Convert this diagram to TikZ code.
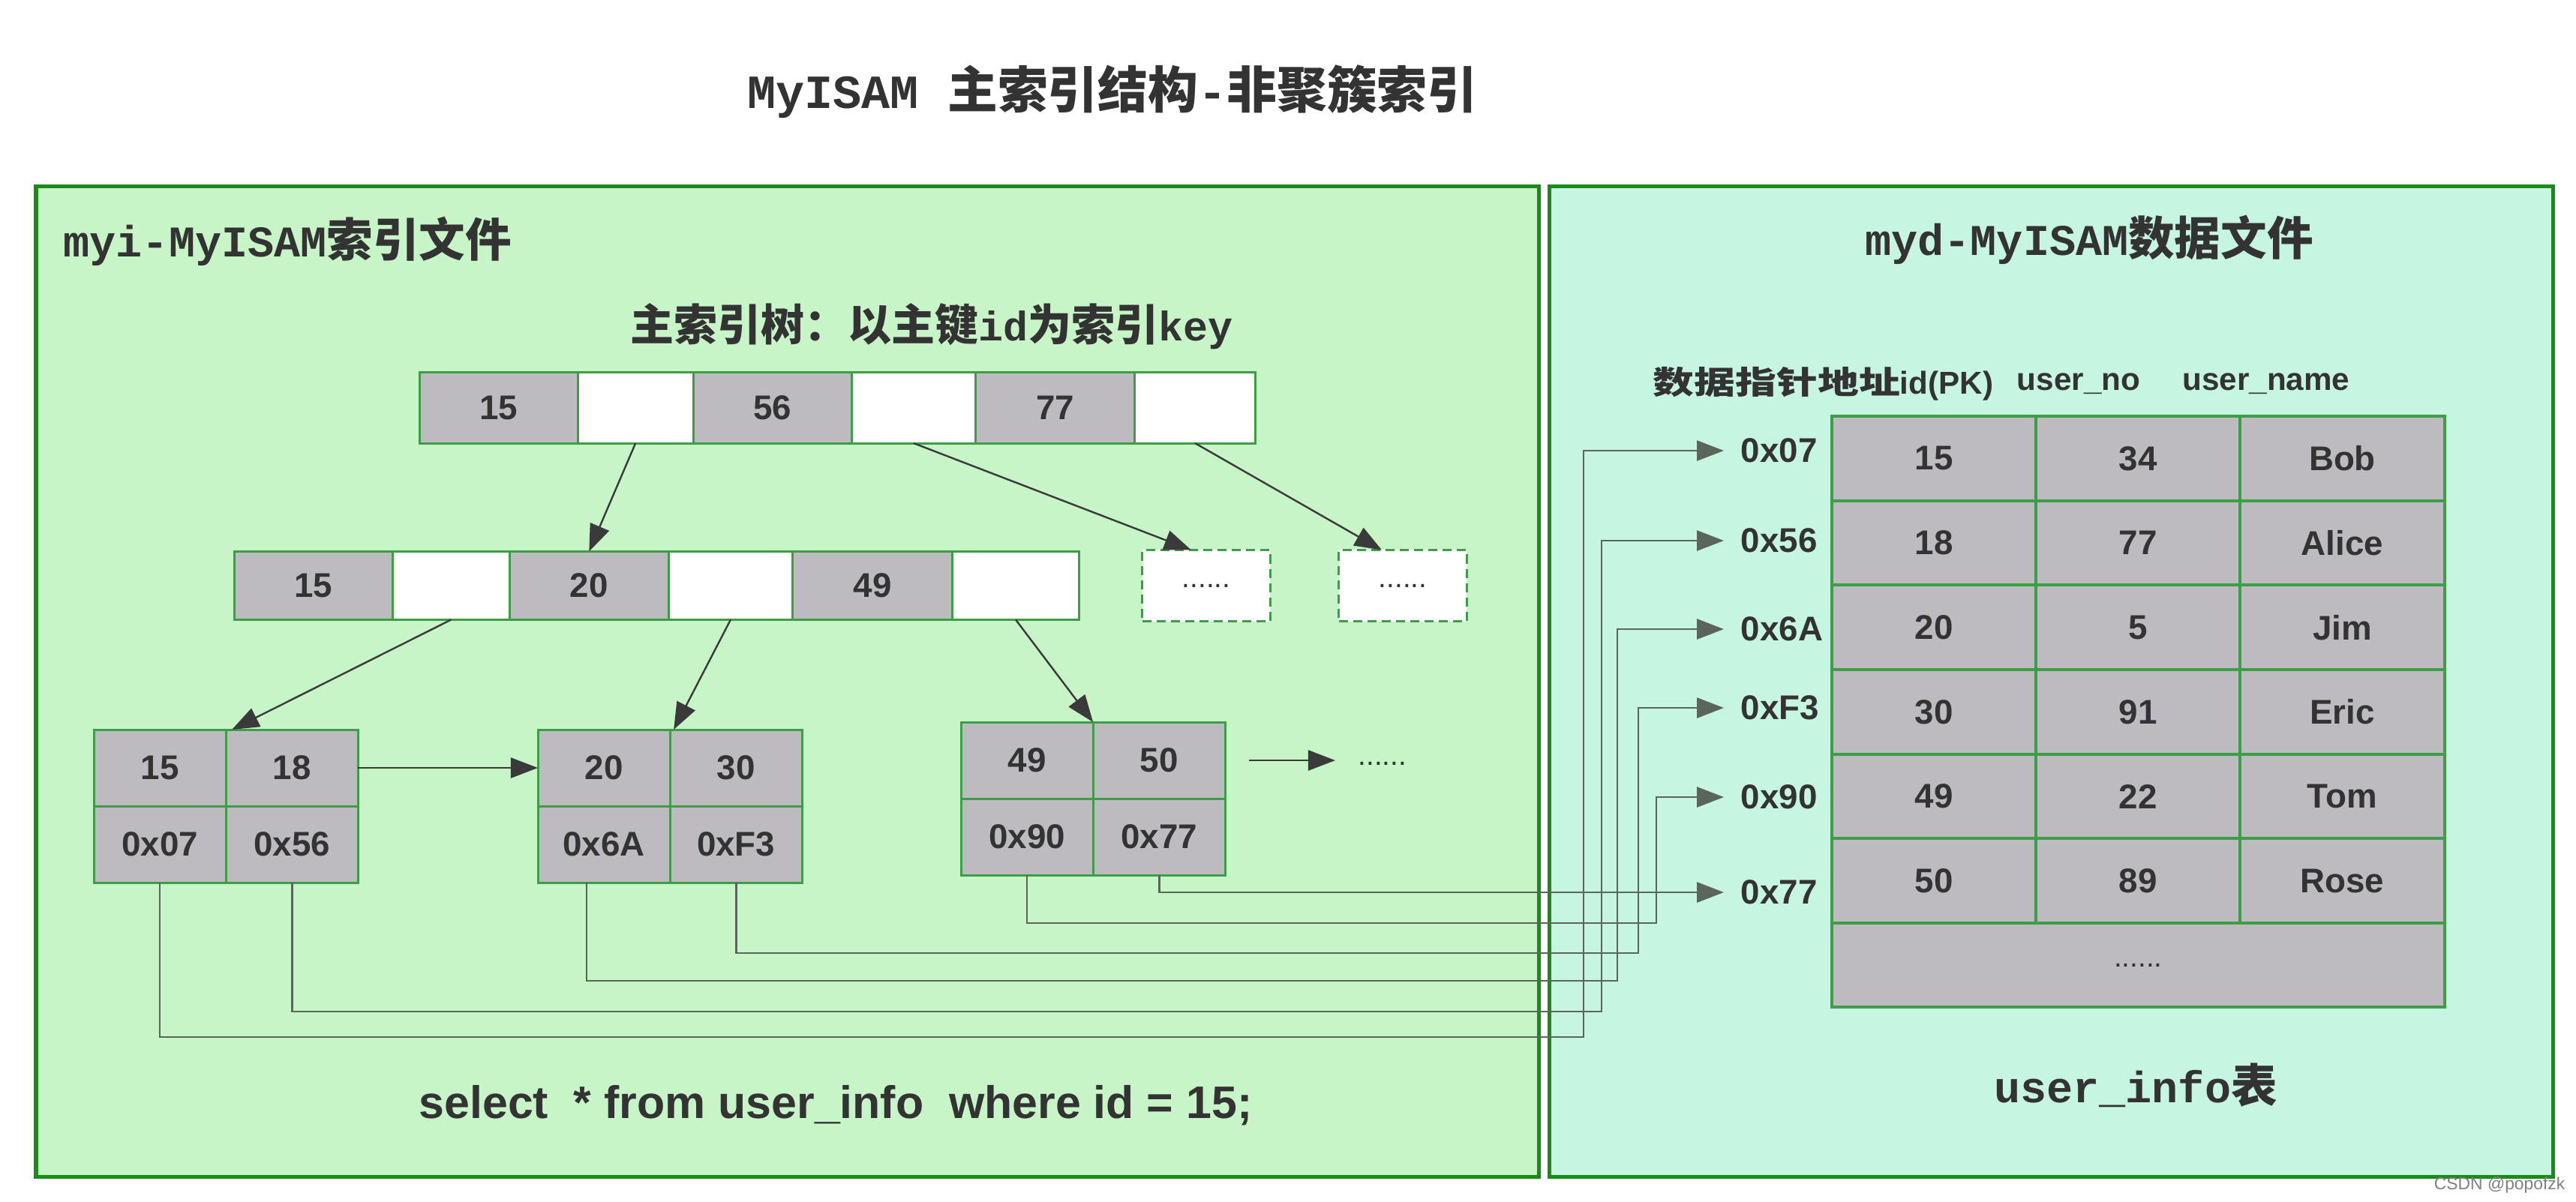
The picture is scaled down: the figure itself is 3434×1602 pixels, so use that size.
\documentclass[tikz,border=0pt]{standalone}
\usepackage{graphicx}
\usepackage{fontspec}
\setmainfont{Liberation Sans}
\newfontfamily\cjk{Noto Sans CJK SC}
\newfontfamily\lm[Scale=0.95]{Liberation Mono}
\usetikzlibrary{arrows.meta,calc}
\definecolor{lfill}{HTML}{C8F5C8}
\definecolor{rfill}{HTML}{C6F5E2}
\definecolor{pborder}{HTML}{1A8A1A}
\definecolor{cborder}{HTML}{3E9E48}
\definecolor{cgray}{HTML}{BDBBBF}
\definecolor{txt}{HTML}{333333}
\definecolor{arr}{HTML}{3A3A3A}
\definecolor{ptr}{HTML}{5A665A}
\begin{document}
\begin{tikzpicture}[x=0.01cm,y=-0.01cm,
  cell/.style={draw=cborder, line width=0.03cm, outer sep=0pt, inner sep=0pt, text=txt, font=\fontsize{13pt}{15pt}\selectfont\bfseries},
  gcell/.style={cell, fill=cgray},
  wcell/.style={cell, fill=white},
  dcell/.style={cell, fill=white, dash pattern=on 0.12cm off 0.07cm, font=\fontsize{11pt}{13pt}\selectfont},
  lcell/.style={gcell, minimum width=1.76cm, minimum height=1.02cm},
  tcell/.style={gcell, line width=0.04cm, minimum width=2.72cm, minimum height=1.1267cm},
  tarrow/.style={draw=arr, line width=0.024cm, -{Triangle[length=0.36cm,width=0.27cm]}},
  plink/.style={draw=ptr, line width=0.028cm},
  parrow/.style={plink, -{Triangle[length=0.36cm,width=0.27cm]}},
  panel/.style={line width=0.05cm, draw=pborder, anchor=north west, inner sep=0pt, outer sep=0pt},
  lbl/.style={text=txt, inner sep=0pt},
  addr/.style={text=txt, font=\fontsize{13pt}{15pt}\selectfont\bfseries, anchor=west, inner xsep=0.22cm, inner ysep=0pt},
  hdr/.style={text=txt, font=\fontsize{12pt}{14pt}\selectfont\bfseries, inner sep=0pt},
  dots/.style={font=\fontsize{11pt}{13pt}\selectfont}
]
\path[fill=white] (0,0) rectangle (3434,1602);
\useasboundingbox (0,0) rectangle (3434,1602);

% panels
\node[panel, fill=lfill, minimum width=20.02cm, minimum height=13.21cm] (lp) at (48,248) {};
\node[panel, fill=rfill, minimum width=13.38cm, minimum height=13.21cm] (rp) at (2065,248) {};

% titles
\node[lbl, font=\fontsize{19pt}{22pt}\selectfont\bfseries] (title) at (1483,122) {{\lm MyISAM }{\cjk 主索引结构}{\lm -}{\cjk 非聚簇索引}};
\node[lbl, anchor=west, font=\fontsize{17.5pt}{20pt}\selectfont\bfseries] (ltitle) at (84,322) {{\lm myi-MyISAM}{\cjk 索引文件}};
\node[lbl, font=\fontsize{16.5pt}{19pt}\selectfont\bfseries] (ttitle) at (1242,435) {{\cjk 主索引树：以主键}{\lm id}{\cjk 为索引}{\lm key}};
\node[lbl, font=\fontsize{17.5pt}{20pt}\selectfont\bfseries] (rtitle) at (2785,320) {{\lm myd-MyISAM}{\cjk 数据文件}};
\node[lbl, font=\fontsize{17.5pt}{20pt}\selectfont\bfseries] (tcap) at (2847,1447) {{\lm user\_info}{\cjk 表}};

% root row
\node[gcell, minimum width=2.11cm, minimum height=0.94cm, anchor=west] (r1a) at (559,544) {15};
\node[wcell, minimum width=1.54cm, minimum height=0.94cm, anchor=west] (r1b) at (r1a.east) {};
\node[gcell, minimum width=2.11cm, minimum height=0.94cm, anchor=west] (r1c) at (r1b.east) {56};
\node[wcell, minimum width=1.65cm, minimum height=0.94cm, anchor=west] (r1d) at (r1c.east) {};
\node[gcell, minimum width=2.12cm, minimum height=0.94cm, anchor=west] (r1e) at (r1d.east) {77};
\node[wcell, minimum width=1.61cm, minimum height=0.94cm, anchor=west] (r1f) at (r1e.east) {};

% second row
\node[gcell, minimum width=2.11cm, minimum height=0.91cm, anchor=west] (r2a) at (312,781) {15};
\node[wcell, minimum width=1.56cm, minimum height=0.91cm, anchor=west] (r2b) at (r2a.east) {};
\node[gcell, minimum width=2.12cm, minimum height=0.91cm, anchor=west] (r2c) at (r2b.east) {20};
\node[wcell, minimum width=1.65cm, minimum height=0.91cm, anchor=west] (r2d) at (r2c.east) {};
\node[gcell, minimum width=2.13cm, minimum height=0.91cm, anchor=west] (r2e) at (r2d.east) {49};
\node[wcell, minimum width=1.69cm, minimum height=0.91cm, anchor=west] (r2f) at (r2e.east) {};

\node[dcell, minimum width=1.70cm, minimum height=0.95cm] (d1) at (1608,781) {......};
\node[dcell, minimum width=1.70cm, minimum height=0.95cm] (d2) at (1870,781) {......};

% leaves
\node[lcell, anchor=north west] (l1a) at (125,973) {15};
\node[lcell, anchor=west] (l1b) at (l1a.east) {18};
\node[lcell, anchor=north] (l1c) at (l1a.south) {0x07};
\node[lcell, anchor=north] (l1d) at (l1b.south) {0x56};

\node[lcell, anchor=north west] (l2a) at (717,973) {20};
\node[lcell, anchor=west] (l2b) at (l2a.east) {30};
\node[lcell, anchor=north] (l2c) at (l2a.south) {0x6A};
\node[lcell, anchor=north] (l2d) at (l2b.south) {0xF3};

\node[lcell, anchor=north west] (l3a) at (1281,963) {49};
\node[lcell, anchor=west] (l3b) at (l3a.east) {50};
\node[lcell, anchor=north] (l3c) at (l3a.south) {0x90};
\node[lcell, anchor=north] (l3d) at (l3b.south) {0x77};

\node[lbl, dots, text=txt, anchor=base west] (more3) at (1810,1020) {......};

% tree arrows
\draw[tarrow] (r1b.south) -- (r2c.north);
\draw[tarrow] (r1d.south) -- ([xshift=-0.2cm]d1.north);
\draw[tarrow] (r1f.south) -- ([xshift=-0.28cm]d2.north);
\draw[tarrow] (r2b.south) -- ([xshift=0.08cm]l1a.north east);
\draw[tarrow] (r2d.south) -- ([xshift=0.05cm]l2a.north east);
\draw[tarrow] (r2f.south) -- (l3a.north east);
\draw[tarrow] (l1b.east) -- (l2a.west);
\draw[tarrow] ([xshift=0.32cm]l3b.east) -- ([xshift=-0.3cm]more3.west |- l3b.east);

% table header
\node[hdr, anchor=west] (h1) at (2203,512) {{\cjk\scalebox{1.3}[1]{数据指针地址}}id(PK)};
\node[hdr] (h2) at (2771,512) {user\_no};
\node[hdr] (h3) at (3021,512) {user\_name};

% table
\foreach \a/\b/\c [count=\i] in {15/34/Bob,18/77/Alice,20/5/Jim,30/91/Eric,49/22/Tom,50/89/Rose}{
  \node[tcell, anchor=north west] (t\i-1) at (2442,{555+112.67*(\i-1)}) {\a};
  \node[tcell, anchor=west] (t\i-2) at (t\i-1.east) {\b};
  \node[tcell, anchor=west] (t\i-3) at (t\i-2.east) {\c};
}
\node[gcell, line width=0.04cm, anchor=north west, minimum width=8.16cm, minimum height=1.12cm, dots] (t7) at (2442,1231) {......};

% address labels
\node[addr] (a07) at (2298,601) {0x07};
\node[addr] (a56) at (2298,721) {0x56};
\node[addr] (a6A) at (2298,839) {0x6A};
\node[addr] (aF3) at (2298,944) {0xF3};
\node[addr] (a90) at (2298,1063) {0x90};
\node[addr] (a77) at (2298,1190) {0x77};

% pointer links
\coordinate (v07) at (2111,1383);
\coordinate (v56) at (2135,1349);
\coordinate (v6A) at (2156,1308);
\coordinate (vF3) at (2184,1271);
\coordinate (v90) at (2208,1231);
\draw[parrow] (l1c.south) |- (v07) |- (a07.west);
\draw[parrow] (l1d.south) |- (v56) |- (a56.west);
\draw[parrow] ([xshift=-0.23cm]l2c.south) |- (v6A) |- (a6A.west);
\draw[parrow] (l2d.south) |- (vF3) |- (aF3.west);
\draw[parrow] (l3c.south) |- (v90) |- (a90.west);
\draw[parrow] (l3d.south) |- (a77.west);

% query
\node[lbl, font=\fontsize{17.3pt}{20pt}\selectfont\bfseries] (sql) at (1114,1474) {select\ \ * from user\_info\ \ where id = 15;};

% watermark
\node[lbl, anchor=east, text=gray, font=\fontsize{6.5pt}{7pt}\selectfont] (wm) at (3420,1581) {CSDN @popofzk};
\end{tikzpicture}
\end{document}
